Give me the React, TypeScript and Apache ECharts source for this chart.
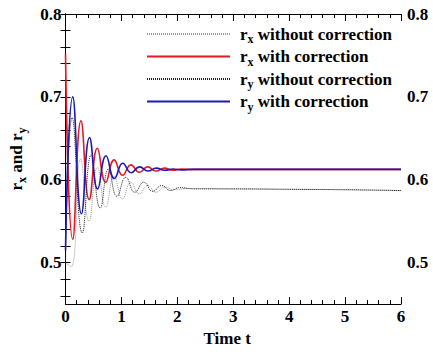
import React, { useEffect, useRef } from "react";
import * as echarts from "echarts";

// ---- data ----
const xTickLabels = ["0", "1", "2", "3", "4", "5", "6"];
const yLabelValues = [0.5, 0.6, 0.7, 0.8];
const yTickValues = [0.46, 0.48, 0.5, 0.52, 0.54, 0.56, 0.58, 0.6, 0.62, 0.64, 0.66, 0.68, 0.7, 0.72, 0.74, 0.76, 0.78, 0.8];

// r_x without correction (grey dotted)
const rxNoT = [0, 0.1, 0.27, 0.42, 0.57, 0.72, 0.87, 1.02, 1.17, 1.32, 1.47, 1.62, 1.77, 1.95, 2.2, 3, 4, 5, 6];
const rxNoV = [0.5, 0.495, 0.625, 0.55, 0.615, 0.567, 0.604, 0.577, 0.597, 0.583, 0.593, 0.585, 0.591, 0.588, 0.5895, 0.589, 0.5885, 0.588, 0.587];

// r_x with correction (red)
const rxCorT = [0, 0.13, 0.277, 0.424, 0.57, 0.718, 0.87, 1.02, 1.17, 1.32, 1.47, 1.62, 1.77, 1.92, 2.07, 2.3, 3, 4, 5, 6];
const rxCorV = [0.752, 0.528, 0.671, 0.576, 0.638, 0.597, 0.624, 0.6055, 0.618, 0.609, 0.6155, 0.6105, 0.614, 0.6115, 0.613, 0.6125, 0.6125, 0.6125, 0.6125, 0.6125];

// r_y without correction (black dotted)
const ryNoT = [0, 0.12, 0.3, 0.46, 0.62, 0.77, 0.92, 1.08, 1.24, 1.4, 1.56, 1.72, 1.88, 2.04, 2.3, 3, 4, 5, 6];
const ryNoV = [0.5, 0.675, 0.536, 0.63, 0.566, 0.613, 0.58, 0.603, 0.585, 0.597, 0.586, 0.593, 0.587, 0.5905, 0.589, 0.589, 0.5885, 0.588, 0.587];

// r_y with correction (blue)
const ryCorT = [0, 0.13, 0.285, 0.43, 0.575, 0.725, 0.875, 1.025, 1.175, 1.325, 1.475, 1.625, 1.775, 1.925, 2.07, 2.3, 3, 4, 5, 6];
const ryCorV = [0.515, 0.7, 0.559, 0.651, 0.589, 0.629, 0.6015, 0.62, 0.6085, 0.6155, 0.6105, 0.614, 0.6115, 0.613, 0.612, 0.6125, 0.6125, 0.6125, 0.6125, 0.6125];

const seriesNames = ["rxNo", "rxCor", "ryNo", "ryCor"];
const legendLabels = [
  "{r|r}{s|x}{r| without correction}",
  "{r|r}{s|x}{r| with correction}",
  "{r|r}{s|y}{r| without correction}",
  "{r|r}{s|y}{r| with correction}",
];

const FONT = "'Liberation Serif', 'Times New Roman', Times, serif";

const pair = (t: number[], v: number[]) => t.map((x, i) => [x, v[i]]);

const rich = {
  r: { fontFamily: FONT, fontSize: 17, fontWeight: "bold", color: "#000", lineHeight: 17 },
  s: { fontFamily: FONT, fontSize: 12, fontWeight: "bold", color: "#000", lineHeight: 22, verticalAlign: "bottom" },
};

export default function App() {
  const ref = useRef<HTMLDivElement>(null);
  useEffect(() => {
    if (!ref.current) return;
    const chart = echarts.init(ref.current, null, { renderer: "svg", width: 433, height: 352 });
    const labelStyle = { fontFamily: FONT, fontSize: 17, fontWeight: "bold", color: "#000" };
    const axisLine = { show: true, lineStyle: { color: "#000", width: 1 } };
    const xBase = {
      type: "value",
      min: 0,
      max: 6,
      interval: 1,
      axisLine,
      splitLine: { show: false },
      axisTick: { show: true, inside: true, length: 7, lineStyle: { color: "#000" } },
      minorTick: { show: true, splitNumber: 5, length: 4, lineStyle: { color: "#000" } },
    };
    const yBase = {
      type: "value",
      min: 0.45,
      max: 0.8,
      axisLine,
      splitLine: { show: false },
      axisTick: { show: true, inside: true, length: 5, customValues: yTickValues, lineStyle: { color: "#000" } },
    };
    chart.setOption({
      animation: false,
      backgroundColor: "#fff",
      grid: { left: 61, width: 340, top: 14, height: 297.5, containLabel: false },
      legend: {
        orient: "vertical",
        left: 146,
        top: 25.5,
        padding: 0,
        itemWidth: 83,
        itemHeight: 14,
        itemGap: 3,
        data: seriesNames,
        itemStyle: { opacity: 0 },
        formatter: (n: string) => legendLabels[seriesNames.indexOf(n)],
        textStyle: { rich, padding: [0, 0, 0, 5] },
      },
      xAxis: [
        {
          ...xBase,
          position: "bottom",
          name: "Time t",
          nameLocation: "middle",
          nameGap: 18,
          nameTextStyle: { ...labelStyle, padding: [0, 12, 0, 0] },
          axisLabel: { ...labelStyle, margin: 4, formatter: (v: number) => xTickLabels[Math.round(v)] ?? "" },
        },
        { ...xBase, position: "top", axisLabel: { show: false } },
      ],
      yAxis: [
        {
          ...yBase,
          position: "left",
          name: "{r|r}{s|x}{r| and r}{s|y}",
          nameLocation: "middle",
          nameRotate: 90,
          nameGap: 34,
          nameTextStyle: { rich, padding: [0, 0, 4, 0] },
          axisLabel: { ...labelStyle, margin: 4, customValues: yLabelValues, formatter: (v: number) => v.toFixed(1) },
        },
        {
          ...yBase,
          position: "right",
          axisLabel: { ...labelStyle, margin: 6, customValues: yLabelValues, formatter: (v: number) => v.toFixed(1) },
        },
      ],
      series: [
        {
          name: "rxNo",
          type: "line",
          data: pair(rxNoT, rxNoV),
          smooth: true,
          symbol: "none",
          color: "#999",
          lineStyle: { color: "#999", width: 1, type: [1, 1] },
        },
        {
          name: "rxCor",
          type: "line",
          data: pair(rxCorT, rxCorV),
          smooth: true,
          symbol: "none",
          color: "#e01b24",
          lineStyle: { color: "#e01b24", width: 1.6 },
        },
        {
          name: "ryNo",
          type: "line",
          data: pair(ryNoT, ryNoV),
          smooth: true,
          symbol: "none",
          color: "#222",
          lineStyle: { color: "#222", width: 1, type: [1, 1] },
        },
        {
          name: "ryCor",
          type: "line",
          data: pair(ryCorT, ryCorV),
          smooth: true,
          symbol: "none",
          color: "#1a1ab4",
          lineStyle: { color: "#1a1ab4", width: 1.6 },
        },
      ],
    });
    return () => chart.dispose();
  }, []);
  return (
    <div
      ref={ref}
      style={{ position: "absolute", left: 0, top: 0, width: 433, height: 352, background: "#fff" }}
    />
  );
}
